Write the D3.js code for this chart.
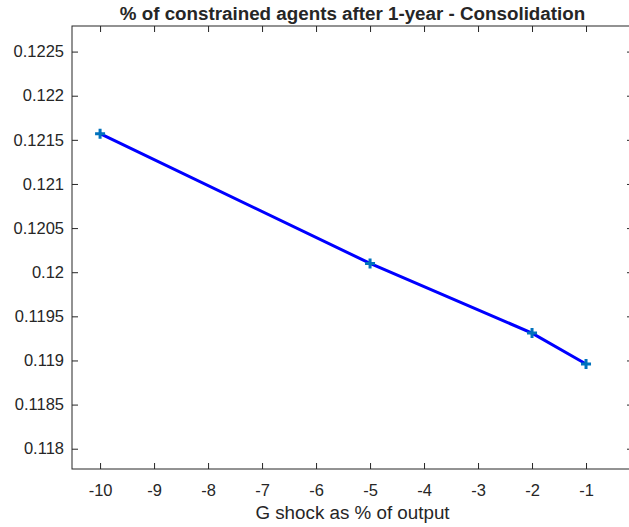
<!DOCTYPE html>
<html>
<head>
<meta charset="utf-8">
<script src="https://cdn.jsdelivr.net/npm/d3@7"></script>
<style>
  html, body { margin: 0; padding: 0; background: #fff; }
  svg { display: block; }
  text { font-family: "Liberation Sans", Arial, sans-serif; fill: #262626; }
</style>
</head>
<body>
<div id="chart"></div>
<script>
// Share of constrained agents one year after the G shock
const shockSizes = [-10, -5, -2, -1];
const constrainedShare = [0.12157, 0.12010, 0.11931, 0.11896];
const xTicks = [-10, -9, -8, -7, -6, -5, -4, -3, -2, -1];
const yTicks = [0.118, 0.1185, 0.119, 0.1195, 0.12, 0.1205, 0.121, 0.1215, 0.122, 0.1225];
const titleText = "% of constrained agents after 1-year - Consolidation";
const xLabelText = "G shock as % of output";

const W = 629, H = 527;
const plotL = 72, plotR = 633, plotT = 26, plotB = 469;

const svg = d3.select("#chart").append("svg")
  .attr("width", W).attr("height", H);

const x = d3.scaleLinear().domain([-10.52, -0.13]).range([plotL, plotR]);
const y = d3.scaleLinear().domain([0.11777, 0.12279]).range([plotB, plotT]);

const axisColor = "#262626";
const tickLen = 6;

// Box around the plot area
svg.append("rect")
  .attr("x", plotL).attr("y", plotT)
  .attr("width", plotR - plotL).attr("height", plotB - plotT)
  .attr("fill", "none").attr("stroke", axisColor).attr("stroke-width", 1);

// Bottom axis (ticks point inward); plain hyphen for negative numbers
const xAxis = d3.axisBottom(x).tickValues(xTicks).tickSize(-tickLen).tickPadding(15)
  .tickFormat(d => String(d));
const gx = svg.append("g").attr("transform", `translate(0,${plotB})`).call(xAxis);
// Mirrored ticks on top edge
const gxTop = svg.append("g").attr("transform", `translate(0,${plotT})`)
  .call(d3.axisTop(x).tickValues(xTicks).tickSize(-tickLen).tickFormat(""));

// Left axis
const yAxis = d3.axisLeft(y).tickValues(yTicks).tickSize(-tickLen).tickPadding(8)
  .tickFormat(d => String(+d.toFixed(4)));
const gy = svg.append("g").attr("transform", `translate(${plotL},0)`).call(yAxis);
// Mirrored ticks on right edge
const gyRight = svg.append("g").attr("transform", `translate(${plotR},0)`)
  .call(d3.axisRight(y).tickValues(yTicks).tickSize(-tickLen).tickFormat(""));

[gx, gxTop, gy, gyRight].forEach(g => {
  g.select(".domain").remove();
  g.selectAll(".tick line").attr("stroke", axisColor).attr("stroke-width", 1);
  g.selectAll(".tick text")
    .attr("fill", axisColor)
    .style("font-family", "'Liberation Sans', Arial, sans-serif")
    .style("font-size", "16.5px");
});

// Data line
const pts = shockSizes.map((s, i) => [s, constrainedShare[i]]);
svg.append("path")
  .datum(pts)
  .attr("fill", "none")
  .attr("stroke", "#0000ff")
  .attr("stroke-width", 3)
  .attr("d", d3.line().x(d => x(d[0])).y(d => y(d[1])));

// Plus markers
const m = 5;
svg.selectAll("path.marker").data(pts).enter().append("path")
  .attr("class", "marker")
  .attr("d", d => {
    const cx = x(d[0]), cy = y(d[1]);
    return `M${cx - m},${cy}H${cx + m}M${cx},${cy - m}V${cy + m}`;
  })
  .attr("stroke", "#0072BD")
  .attr("stroke-width", 3)
  .attr("fill", "none");

// Title
svg.append("text")
  .attr("x", (plotL + plotR) / 2).attr("y", 20)
  .attr("text-anchor", "middle")
  .style("font-size", "18.8px").style("font-weight", "bold")
  .attr("fill", "#000")
  .text(titleText);

// X axis label
svg.append("text")
  .attr("x", (plotL + plotR) / 2).attr("y", 519)
  .attr("text-anchor", "middle")
  .style("font-size", "18.8px")
  .text(xLabelText);
</script>
</body>
</html>
